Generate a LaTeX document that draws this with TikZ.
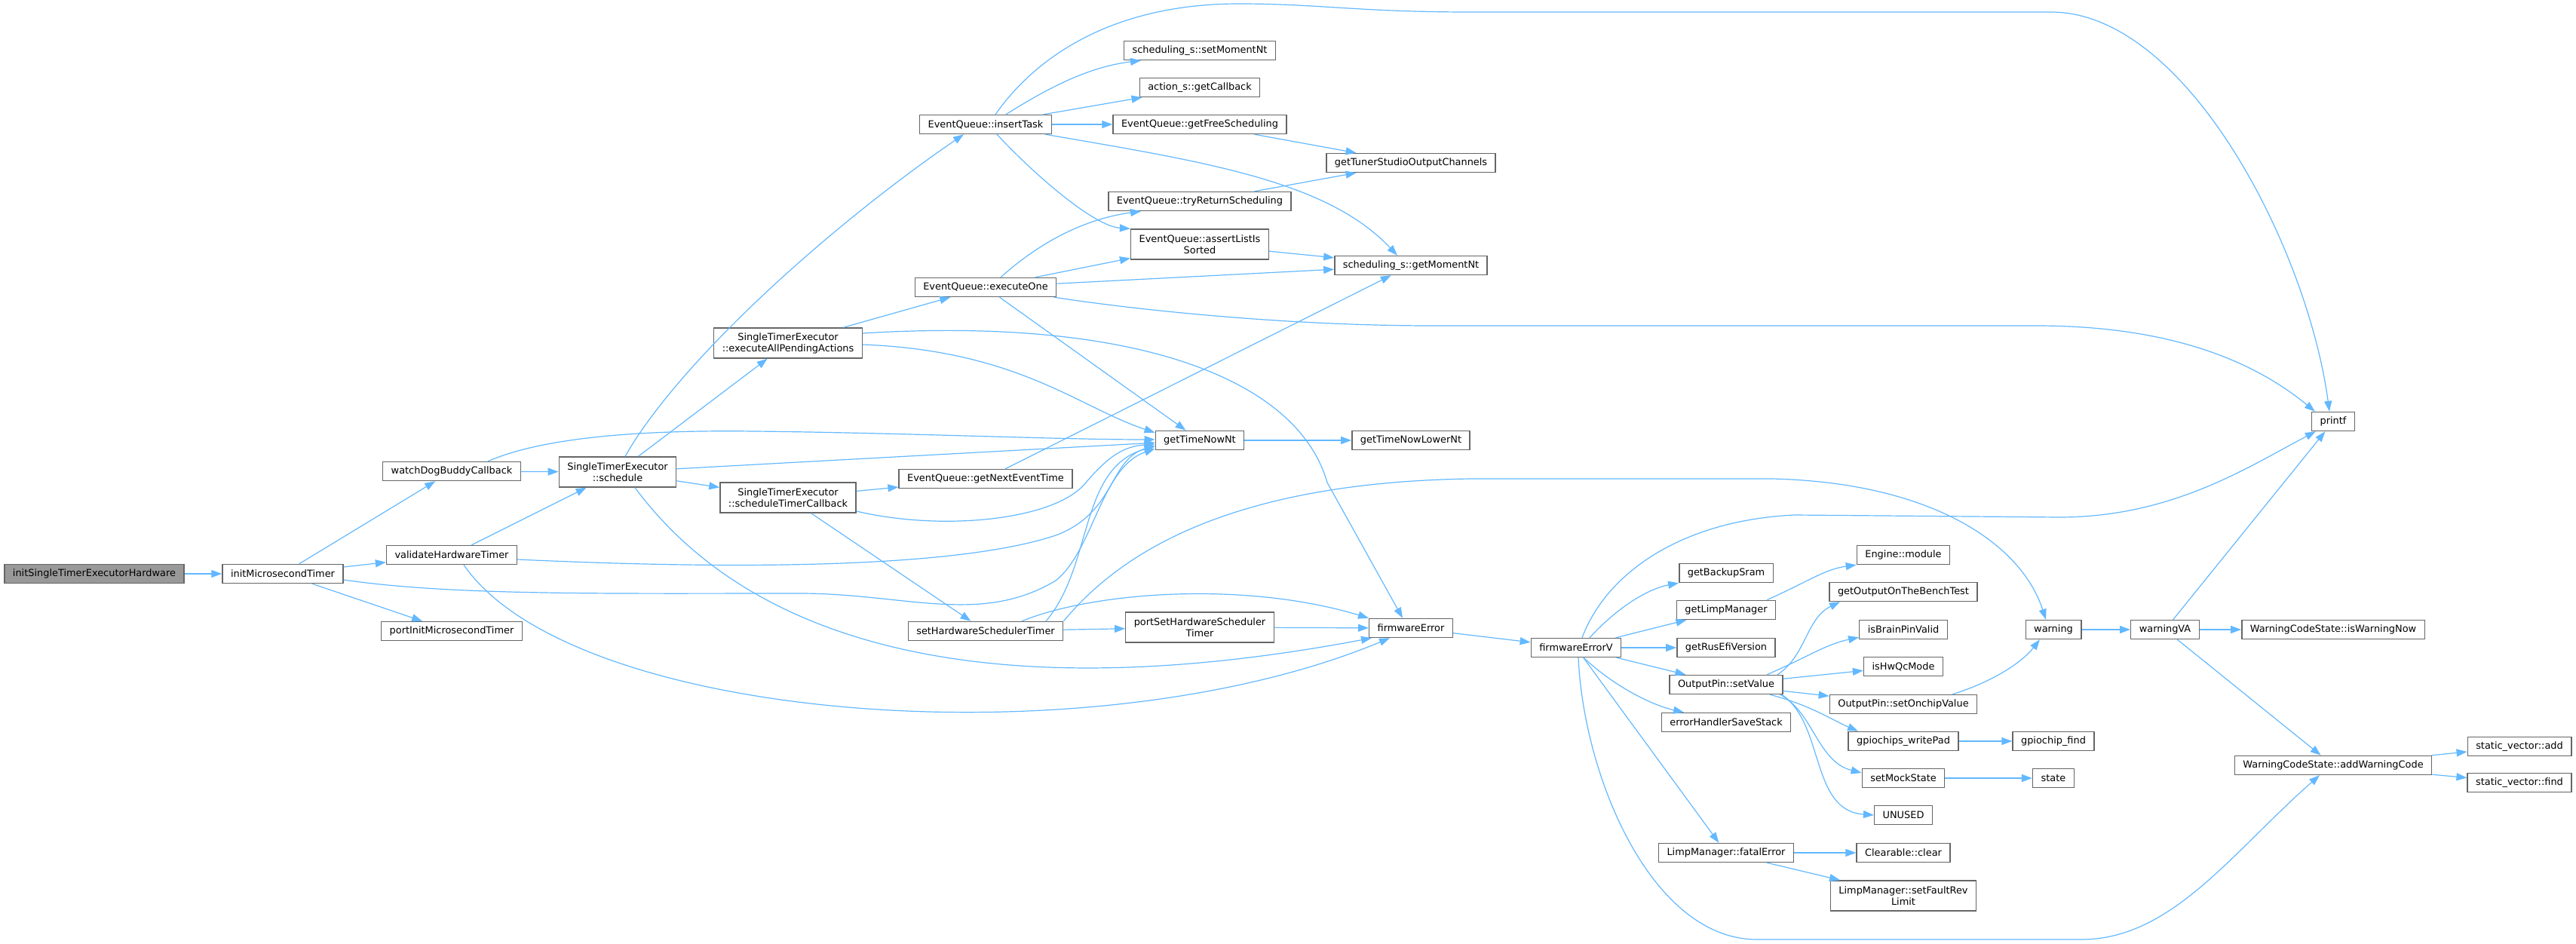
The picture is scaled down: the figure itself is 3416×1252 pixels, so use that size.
\documentclass[tikz,border=0pt]{standalone}
\usepackage{fontspec}
\setmainfont{DejaVu Sans}
\usetikzlibrary{arrows.meta}
\definecolor{edgeblue}{HTML}{63B8FF}
\definecolor{boxgray}{HTML}{666666}
\definecolor{startgray}{HTML}{999999}
\begin{document}
\begin{tikzpicture}[x=1pt,y=-1pt,
	fn/.style={draw=boxgray,fill=white,line width=1.4pt,inner xsep=11pt,inner ysep=3pt,minimum height=25pt,align=center,font=\fontsize{12.9pt}{15pt}\selectfont},
	arrow/.style={>={Triangle[length=14pt,width=10pt]},->,draw=edgeblue,line width=1.2pt}]
	\useasboundingbox (0,0) rectangle (3416,1252);
	\node[fn,fill=startgray] (init) at (125,761) {initSingleTimerExecutorHardware};
	\foreach \nm/\x/\y/\h/\txt in {micro/375/761/25/initMicrosecondTimer,wdog/599/625/25/watchDogBuddyCallback,valid/599/736/25/validateHardwareTimer,portinit/599/837/25/portInitMicrosecondTimer,
		sched/819/626/40/{SingleTimerExecutor\\::schedule},execall/1045/455/40/{SingleTimerExecutor\\::executeAllPendingActions},schedcb/1045/660/40/{SingleTimerExecutor\\::scheduleTimerCallback},
		insert/1307/165/25/EventQueue::insertTask,exone/1307/381/25/EventQueue::executeOne,nextev/1307/635/25/EventQueue::getNextEventTime,sethw/1307/837/25/setHardwareSchedulerTimer,
		setmom/1591/67/25/scheduling\_s::setMomentNt,getcb/1591/116/25/action\_s::getCallback,getfree/1591/165/25/EventQueue::getFreeScheduling,tryret/1591/267/25/EventQueue::tryReturnScheduling,
		assert/1591/324/40/{EventQueue::assertListIs\\Sorted},now/1591/584/25/getTimeNowNt,portset/1591/832/40/{portSetHardwareScheduler\\Timer},
		tuner/1871/216/25/getTunerStudioOutputChannels,getmom/1871/352/25/scheduling\_s::getMomentNt,lower/1871/584/25/getTimeNowLowerNt,fwerr/1871/833/25/firmwareError,
		fwerrv/2090/859/25/firmwareErrorV,sram/2289/760/25/getBackupSram,limp/2289/809/25/getLimpManager,rusefi/2289/859/25/getRusEfiVersion,setval/2289/908/25/OutputPin::setValue,
		savestk/2289/958/25/errorHandlerSaveStack,fatal/2289/1131/25/LimpManager::fatalError,engmod/2524/736/25/Engine::module,bench/2524/785/25/getOutputOnTheBenchTest,
		brain/2524/835/25/isBrainPinValid,hwqc/2524/884/25/isHwQcMode,onchip/2524/934/25/OutputPin::setOnchipValue,wpad/2524/983/25/gpiochips\_writePad,mock/2524/1032/25/setMockState,
		unused/2524/1081/25/UNUSED,clear/2524/1131/25/Clearable::clear,revlim/2524/1188/40/{LimpManager::setFaultRev\\Limit},gfind/2723/983/25/gpiochip\_find,state/2723/1032/25/state,
		warn/2723/835/25/warning,warnva/2871/835/25/warningVA,isnow/3094/835/25/WarningCodeState::isWarningNow,printf/3094/559/25/printf,
		addwc/3094/1015/25/WarningCodeState::addWarningCode,svadd/3341/990/25/static\_vector::add,svfind/3341/1038/25/static\_vector::find}
	\node[fn,minimum height=\h] (\nm) at (\x,\y) {\txt};
	
	\foreach \a/\b in {init/micro,micro/wdog,micro/valid,micro/portinit,wdog/sched,valid/sched,sched/execall,sched/schedcb,sched/now,execall/exone,schedcb/nextev,schedcb/sethw,
		insert/getcb,insert/getfree,getfree/tuner,tryret/tuner,assert/getmom,exone/assert,exone/getmom,exone/now,nextev/getmom,now/lower,sethw/portset,portset/fwerr,fwerr/fwerrv,
		fwerrv/limp,fwerrv/rusefi,fwerrv/setval,fwerrv/fatal,setval/hwqc,setval/onchip,wpad/gfind,mock/state,fatal/clear,warn/warnva,warnva/isnow,warnva/printf,
		warnva/addwc,addwc/svadd,addwc/svfind}
	\draw[arrow] (\a)--(\b);
	
	\draw[arrow] ([xshift=54]fatal.south)--([xshift=-84]revlim.north);
	\draw[arrow] ([xshift=13]insert.north) .. controls (1370,80) and (1470,5) .. (1643,5) .. controls (1750,5) and (1800,16) .. (1950,16) -- (2720,16) .. controls (2900,16) and (3060,330) .. ([xshift=-5]printf.north);
	\draw[arrow] ([xshift=-4]exone.south east) .. controls (1500,410) and (1700,432) .. (1900,432) -- (2700,432) .. controls (2880,432) and (2990,480) .. ([xshift=5]printf.north west);
	\draw[arrow] ([xshift=8]fwerrv.north) .. controls (2130,760) and (2230,690) .. (2380,683) -- (2730,686) .. controls (2880,686) and (2980,620) .. ([xshift=6]printf.south west);
	\draw[arrow] (sethw.north east) .. controls (1480,740) and (1620,640) .. (1950,635) -- (2350,635) .. controls (2560,640) and (2680,720) .. ([xshift=-10]warn.north);
	\draw[arrow] ([xshift=65]onchip.north) .. controls (2640,905) and (2680,880) .. ([xshift=-18]warn.south);
	\draw[arrow] ([xshift=3]fwerrv.south) .. controls (2100,1030) and (2190,1246) .. (2330,1246) -- (2760,1246) .. controls (2880,1246) and (2960,1130) .. ([xshift=-18]addwc.south);
	\draw[arrow] ([xshift=16]valid.south) .. controls (760,960) and (1450,1010) .. ([xshift=-28]fwerr.south);
	\draw[arrow] ([xshift=23]sched.south) .. controls (1000,860) and (1320,940) .. ([xshift=4]fwerr.south west);
	\draw[arrow] ([yshift=13]execall.east) .. controls (1500,420) and (1720,500) .. (1760,640) -- ([xshift=-11]fwerr.north);
	\draw[arrow] ([yshift=-2]execall.east) .. controls (1350,465) and (1430,540) .. ([yshift=-3]now.north west);
	\draw[arrow] ([xshift=48]wdog.north) .. controls (720,580) and (850,570) .. (1000,572) .. controls (1200,574) and (1400,583) .. ([yshift=1]now.west);
	\draw[arrow] ([yshift=-6]valid.east) .. controls (900,752) and (1250,760) .. (1400,710) .. controls (1480,680) and (1470,610) .. ([yshift=-7]now.west);
	\draw[arrow] ([yshift=-8]micro.east) .. controls (600,790) and (800,787) .. (1060,787) .. controls (1200,787) and (1300,830) .. (1400,770) .. controls (1450,730) and (1460,620) .. ([yshift=-11]now.west);
	\draw[arrow] ([yshift=-18]schedcb.east) .. controls (1250,705) and (1400,690) .. (1440,640) .. controls (1470,605) and (1490,592) .. ([yshift=-5]now.west);
	\draw[arrow] ([xshift=80]sethw.north) .. controls (1450,750) and (1430,620) .. ([yshift=-8]now.west);
	\draw[arrow] ([xshift=10]sched.north) .. controls (900,480) and (1100,300) .. ([xshift=-29]insert.south);
	\draw[arrow] ([xshift=27]insert.north) .. controls (1400,110) and (1450,88) .. ([xshift=-78]setmom.south);
	\draw[arrow] ([xshift=15]insert.south) .. controls (1370,230) and (1450,300) .. (assert.north west);
	\draw[arrow] ([xshift=79]insert.south) .. controls (1600,215) and (1760,240) .. ([xshift=-18]getmom.north);
	\draw[arrow] ([xshift=20]exone.north) .. controls (1380,320) and (1440,290) .. ([xshift=-78]tryret.south);
	\draw[arrow] ([xshift=48]sethw.north) .. controls (1450,785) and (1650,770) .. (fwerr.north west);
	\draw[arrow] ([xshift=18]fwerrv.north) .. controls (2150,800) and (2190,780) .. (sram.south west);
	\draw[arrow] ([xshift=10]fwerrv.south) .. controls (2140,910) and (2190,935) .. ([xshift=-56]savestk.north);
	\draw[arrow] ([xshift=54]limp.north) .. controls (2400,770) and (2420,755) .. (engmod.south west);
	\draw[arrow] ([xshift=68]setval.north) .. controls (2395,870) and (2395,820) .. ([xshift=-84]bench.south);
	\draw[arrow] ([xshift=54]setval.north) .. controls (2400,870) and (2420,855) .. ([yshift=3]brain.south west);
	\draw[arrow] ([xshift=58]setval.south) .. controls (2400,935) and (2430,955) .. ([xshift=-60]wpad.north);
	\draw[arrow] ([xshift=-4]setval.south east) .. controls (2405,945) and (2410,1010) .. ([yshift=7]mock.west);
	\draw[arrow] ([xshift=-2]setval.south east) .. controls (2420,960) and (2400,1075) .. (unused.west);
\end{tikzpicture}
\end{document}
